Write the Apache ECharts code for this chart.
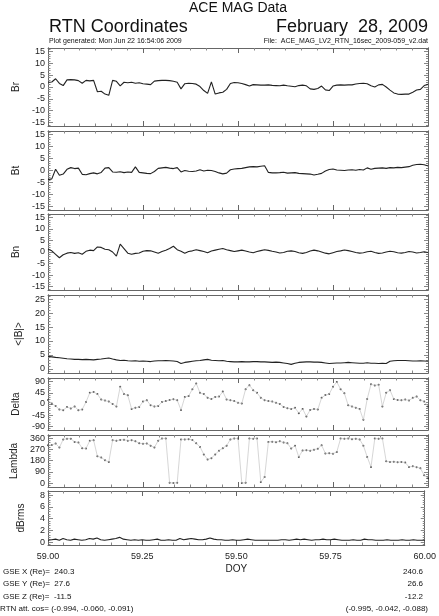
<!DOCTYPE html>
<html>
<head>
<meta charset="utf-8">
<script src="https://cdn.jsdelivr.net/npm/echarts@6/dist/echarts.min.js"></script>
<style>
html, body { margin: 0; padding: 0; background: #fff; }
#chart { width: 439px; height: 616px; }
</style>
</head>
<body>
<div id="chart"></div>
<script>
// sample times (day of year), every 0.01 day
var doy = [];
for (var i = 0; i <= 100; i++) doy.push(+(59 + i / 100).toFixed(2));

// magnetic field values (nT)
var br = [2.0,2.1,3.5,1.5,0.6,3.0,3.1,3.0,2.7,1.6,2.8,2.6,2.8,-2.0,-1.8,-3.0,-3.5,2.8,2.4,0.5,
  2.0,1.8,2.0,1.6,1.8,1.4,1.2,1.0,2.5,2.7,2.8,2.8,2.7,2.4,2.0,-0.8,1.4,1.6,1.5,1.2,
  0.2,-1.5,-2.7,2.2,-3.0,-2.5,-2.2,-1.0,1.5,1.9,1.8,1.5,1.0,0.4,1.0,0.9,0.8,0.8,0.9,0.7,
  0.6,0.5,0.8,0.5,0.3,0.1,0.6,0.8,0.5,-0.8,-1.0,-0.6,0.4,-1.2,-1.5,0.4,0.8,0.9,0.8,0.9,
  0.9,1.3,1.5,1.6,1.4,0.5,0.0,0.9,1.1,0.0,-1.3,-2.5,-3.0,-3.1,-3.0,-3.0,-2.2,-1.3,-1.0,0.6,1.1];
var bt = [-3.8,-3.5,0.5,-2.0,-1.5,0.5,1.2,0.8,1.0,-1.6,-1.8,-1.3,-1.0,-1.4,-0.8,1.0,1.2,-0.6,-0.7,-0.5,
  -0.9,-0.6,-0.8,1.5,-0.8,-1.0,-1.2,-1.3,-0.4,0.9,1.1,1.3,1.0,0.8,1.2,-0.6,0.0,-0.3,-0.4,-0.2,
  0.3,-0.2,0.1,0.0,-0.4,-1.0,-1.4,-1.1,0.3,0.6,0.8,0.9,1.2,1.5,1.6,1.5,1.8,2.0,-0.8,-1.0,
  -1.0,-0.9,-0.7,-1.1,-1.0,-0.9,-1.2,-1.3,-1.4,-1.5,-1.9,-1.6,-1.2,-0.2,0.4,0.6,0.2,0.1,0.0,0.2,
  0.3,0.1,0.4,0.2,1.1,0.5,0.9,1.0,1.1,0.9,1.2,1.1,1.3,1.2,1.4,1.6,2.2,2.5,2.6,2.4,1.9];
var bn = [1.2,0.5,-1.0,-2.5,-1.2,-0.5,-0.2,-0.6,-0.3,-1.0,0.3,0.8,0.6,2.2,2.0,1.2,1.0,0.0,-1.8,3.4,
  1.5,-0.5,-1.0,-0.6,-0.4,0.3,0.6,0.5,0.0,-0.5,0.2,0.8,1.5,2.5,1.0,0.3,-0.5,0.2,0.5,1.0,
  0.6,0.2,-0.3,0.4,0.8,1.2,1.5,1.0,0.6,0.2,0.5,0.8,0.4,0.0,-0.3,0.2,0.6,1.0,0.7,0.3,
  0.0,-0.4,-0.2,0.3,0.5,0.2,-0.3,-0.6,-0.2,0.4,0.8,0.5,0.0,-0.5,-0.8,-0.3,0.2,0.5,0.9,0.6,
  0.2,-0.2,-0.5,-0.3,0.1,0.3,-0.2,-0.6,-0.4,0.0,0.3,0.1,-0.3,-0.5,-0.2,0.2,0.0,-0.4,-0.2,0.1,-0.2];
var bmag = [4.5,4.3,4.1,4.0,3.8,3.6,3.5,3.4,3.4,3.3,3.4,3.3,3.2,3.4,3.5,3.7,3.9,3.5,3.2,3.0,
  3.1,2.9,2.8,2.9,2.7,2.8,2.7,2.6,2.8,2.9,2.9,3.0,2.9,2.8,2.6,1.9,2.3,2.5,2.7,2.9,
  3.0,3.2,3.4,3.1,3.0,2.9,3.0,2.7,2.6,2.5,2.5,2.6,2.5,2.5,2.6,2.6,2.5,2.5,2.4,2.3,
  2.4,2.3,2.1,1.9,1.6,2.0,2.3,2.4,2.5,2.5,2.4,2.4,2.3,2.1,1.9,2.0,2.1,2.1,2.2,2.3,
  2.2,2.1,2.0,2.0,2.2,2.0,2.0,1.9,2.0,1.9,2.7,2.9,3.0,3.0,3.0,2.9,2.8,2.8,2.9,2.8,2.7];
// field direction (deg)
var delta = [16,2,-8,-22,-25,-12,-18,-10,-25,-22,8,45,48,40,18,14,10,0,-10,70,
  40,35,-20,-15,-12,10,15,-5,-10,-8,8,12,16,19,15,-24,28,32,60,83,
  45,40,25,20,28,30,50,18,15,12,5,2,60,76,56,45,25,15,12,10,
  5,0,-12,-17,-20,-15,-37,-20,-50,-24,-20,-22,25,36,40,70,89,60,43,-5,
  -10,-15,-20,-64,20,80,75,78,-10,45,56,20,16,15,18,14,25,30,15,10,-10];
var lambda = [304,305,317,285,350,356,355,330,325,280,277,340,344,215,205,184,170,344,340,345,
  348,340,344,335,320,315,318,300,285,340,357,358,3,2,4,350,350,352,345,320,
  290,230,190,200,230,260,280,300,350,357,358,2,3,357,356,358,10,50,330,332,
  328,335,325,320,277,300,210,262,264,260,268,275,304,237,240,235,250,357,355,357,
  352,356,350,300,210,130,357,355,358,175,170,172,168,170,165,130,135,128,120,64,40];
var dbrms = [0.3,0.4,0.5,0.3,0.6,0.4,0.3,0.5,0.4,0.3,0.4,0.6,0.5,0.7,0.4,0.3,0.4,0.5,0.6,0.8,
  0.5,0.4,0.3,0.4,0.3,0.4,0.3,0.3,0.4,0.5,0.3,0.3,0.4,0.3,0.3,0.6,0.4,0.5,0.6,0.5,
  0.4,0.4,0.5,0.7,0.5,0.4,0.4,0.3,0.3,0.4,0.3,0.3,0.4,0.5,0.4,0.3,0.3,0.3,0.3,0.3,
  0.3,0.3,0.4,0.4,0.3,0.4,0.5,0.4,0.5,0.4,0.3,0.4,0.4,0.5,0.4,0.4,0.5,0.4,0.3,0.3,
  0.3,0.4,0.3,0.3,0.5,0.4,0.4,0.3,0.3,0.3,0.4,0.3,0.3,0.3,0.4,0.3,0.3,0.4,0.3,0.3,0.3];

// tick labels
var bTicks = [-15, -10, -5, 0, 5, 10, 15];
var bmagTicks = [0, 5, 10, 15, 20, 25];
var deltaTicks = [-90, -45, 0, 45, 90];
var lambdaTicks = [0, 90, 180, 270, 360];
var dbrmsTicks = [0, 2, 4, 6, 8];

var gseNames = ['GSE X (Re)=  240.3', 'GSE Y (Re)=  27.6', 'GSE Z (Re)=  -11.5', 'RTN att. cos= (-0.994, -0.060, -0.091)'];
var gseEnd = ['240.6', '26.6', '-12.2', '(-0.995, -0.042, -0.088)'];

var FONT = '"Liberation Sans", Arial, sans-serif';
var INK = '#222';

var panels = [
    { name: 'Br', data: br, ticks: bTicks, min: -16.5, max: 16.5, top: 48, height: 78 },
    { name: 'Bt', data: bt, ticks: bTicks, min: -16.5, max: 16.5, top: 131, height: 79 },
    { name: 'Bn', data: bn, ticks: bTicks, min: -16.5, max: 16.5, top: 214, height: 76 },
    { name: '<|B|>', data: bmag, ticks: bmagTicks, min: -1.5, max: 26.5, top: 295, height: 78 },
    { name: 'Delta', data: delta, ticks: deltaTicks, min: -105, max: 105, top: 378, height: 52, dots: true },
    { name: 'Lambda', data: lambda, ticks: lambdaTicks, min: -30, max: 385, top: 435, height: 52, dots: true },
    { name: 'dBrms', data: dbrms, ticks: dbrmsTicks, min: -0.5, max: 8.7, top: 491, height: 54 }
];

function minorOf(ticks) {
    var step = (ticks[1] - ticks[0]) / 5, out = [];
    for (var v = ticks[0] - 5 * step; v <= ticks[ticks.length - 1] + 5 * step + 1e-9; v += step) out.push(+v.toFixed(4));
    return out;
}

var grid = [], xAxis = [], yAxis = [], series = [];
panels.forEach(function (p, k) {
    var last = k === panels.length - 1;
    grid.push({ left: 48, right: 11, top: p.top, height: p.height });
    ['bottom', 'top'].forEach(function (pos) {
        xAxis.push({
            type: 'value', gridIndex: k, min: 59, max: 60, interval: 0.25, position: pos,
            axisLine: { onZero: false, lineStyle: { color: '#666', width: 1 } },
            axisTick: { inside: true, length: 5, lineStyle: { color: '#666' } },
            minorTick: { show: true, splitNumber: 6, length: 2.5, lineStyle: { color: '#888' } },
            splitLine: { show: false },
            axisLabel: {
                show: last && pos === 'bottom', color: INK, fontFamily: FONT, fontSize: 9, margin: 7,
                formatter: function (v) { return v.toFixed(2); }
            },
            name: last && pos === 'bottom' ? 'DOY' : '', nameLocation: 'middle', nameGap: 19,
            nameTextStyle: { color: INK, fontFamily: FONT, fontSize: 10 }
        });
    });
    var minor = minorOf(p.ticks);
    [['left', p.ticks, 5, true], ['left', minor, 2.5, false], ['right', p.ticks, 4, false], ['right', minor, 2, false]].forEach(function (a) {
        yAxis.push({
            type: 'value', gridIndex: k, min: p.min, max: p.max, position: a[0],
            axisLine: { show: true, onZero: false, lineStyle: { color: '#666', width: 1 } },
            axisTick: { show: true, inside: true, length: a[2], customValues: a[1], lineStyle: { color: '#888' } },
            axisLabel: { show: a[3], customValues: p.ticks, color: INK, fontFamily: FONT, fontSize: 9, margin: 3 },
            splitLine: { show: false },
            name: a[3] ? p.name : '', nameLocation: 'middle', nameGap: 22, nameRotate: 90,
            nameTextStyle: { color: INK, fontFamily: FONT, fontSize: 10 }
        });
    });
    var pts = doy.map(function (x, i) { return [x, p.data[i]]; });
    if (p.dots) {
        series.push({ type: 'line', xAxisIndex: 2 * k, yAxisIndex: 4 * k, data: pts, symbol: 'none',
            lineStyle: { color: '#bbb', width: 0.6 }, silent: true });
        series.push({ type: 'scatter', xAxisIndex: 2 * k, yAxisIndex: 4 * k, data: pts, symbolSize: 2,
            itemStyle: { color: '#222' }, silent: true });
    } else {
        series.push({ type: 'line', xAxisIndex: 2 * k, yAxisIndex: 4 * k, data: pts, symbol: 'none',
            lineStyle: { color: '#222', width: 1.1 }, silent: true });
    }
});

function label(text, x, y, size, align) {
    return { type: 'text', x: x, y: y, silent: true,
        style: { text: text, font: size + 'px ' + FONT, fill: '#111', textAlign: align, textVerticalAlign: 'middle' } };
}
var graphic = [
    label('ACE MAG Data', 238, 8, 14, 'center'),
    label('RTN Coordinates', 49, 27, 18, 'left'),
    label('February  28, 2009', 428, 27, 18, 'right'),
    label('Plot generated: Mon Jun 22 16:54:06 2009', 49, 41, 7, 'left'),
    label('File:  ACE_MAG_LV2_RTN_16sec_2009-059_v2.dat', 428, 41, 7, 'right')
];
var rowsY = [572, 584, 597, 609];
gseNames.forEach(function (t, i) { graphic.push(label(t, i === 3 ? 0 : 3, rowsY[i], 8, 'left')); });
gseEnd.forEach(function (t, i) { graphic.push(label(t, i === 3 ? 428 : 423, rowsY[i], 8, 'right')); });

var myChart = echarts.init(document.getElementById('chart'));
myChart.setOption({
    animation: false,
    backgroundColor: '#fff',
    grid: grid,
    xAxis: xAxis,
    yAxis: yAxis,
    series: series,
    graphic: graphic
});
window.addEventListener('resize', function () { myChart.resize(); });
</script>
</body>
</html>
